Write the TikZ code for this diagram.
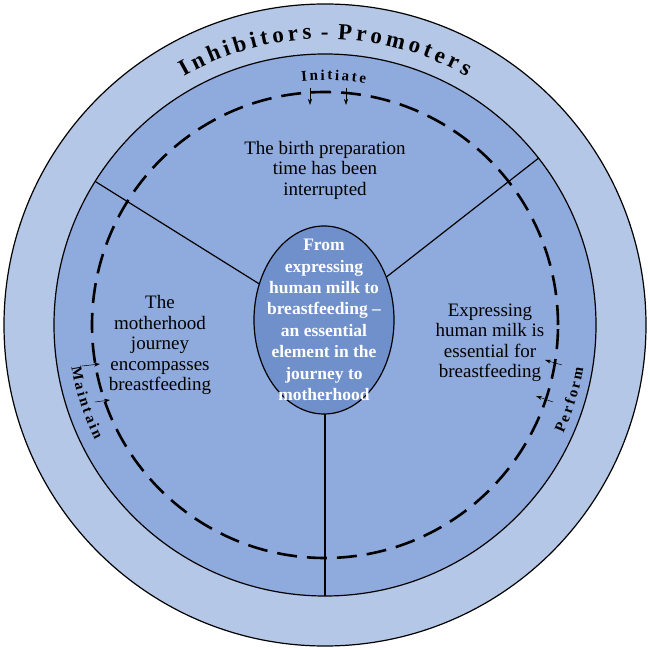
\documentclass[tikz,border=0pt]{standalone}
\usepackage{fontspec}
\setmainfont{Liberation Serif}
\usetikzlibrary{decorations.text,arrows.meta,shapes.geometric}
\definecolor{outerc}{HTML}{B4C7E7}
\definecolor{innerc}{HTML}{8FAADC}
\definecolor{corec}{HTML}{7090CC}
\begin{document}
\begin{tikzpicture}[x=1pt,y=1pt,
  body/.style={align=center,font=\fontsize{19}{20.5}\selectfont},
  arr/.style={-{Stealth[length=6pt,width=4pt]},line width=0.5pt},
  divider/.style={line width=1.2pt}]
\useasboundingbox (-325,-325) rectangle (325,325);
\fill[white] (-325,-325) rectangle (325,325);
\draw[fill=outerc,line width=1.2pt] (0,0) circle[radius=321];
\draw[fill=innerc,line width=1.2pt] (0,0) circle[radius=271];
\coordinate (c) at (0,0);
\coordinate (tl) at (148:271);
\coordinate (tr) at (38:271);
\coordinate (bt) at (270:271);
\draw[divider] (c) -- (tl);
\draw[divider] (c) -- (tr);
\draw[divider] (c) -- (bt);
\draw[line width=2.6pt,dash pattern=on 20pt off 10pt] (0,0) circle[radius=233];
\node[draw,line width=1.2pt,fill=corec,ellipse,minimum width=140pt,minimum height=188pt,inner sep=0pt] (core) at (-1,5) {};
\node[align=center,text=white,font=\bfseries\fontsize{17.5}{21.4}\selectfont] (coret) at (-1,5) {From\\expressing\\human milk to\\breastfeeding --\\an essential\\element in the\\journey to\\motherhood};
\node[body] (top) at (0,155) {The birth preparation\\time has been\\interrupted};
\node[body] (left) at (-165,-20) {The\\motherhood\\journey\\encompasses\\breastfeeding};
\node[body] (right) at (165,-18) {Expressing\\human milk is\\essential for\\breastfeeding};
% curved labels
\path[decorate,decoration={text along path,text align=center,
  text={|\bfseries\fontsize{23}{23}\selectfont|I{\kern4pt}n{\kern4pt}h{\kern4pt}i{\kern4pt}b{\kern4pt}i{\kern4pt}t{\kern4pt}o{\kern4pt}r{\kern4pt}s{\kern4pt}{\kern5pt}-{\kern5pt}{\kern4pt}P{\kern4pt}r{\kern4pt}o{\kern4pt}m{\kern4pt}o{\kern4pt}t{\kern4pt}e{\kern4pt}r{\kern4pt}s}}]
  (135:286) arc[start angle=135,end angle=45,radius=286];
\path[decorate,decoration={text along path,text align=center,
  text={|\bfseries\fontsize{15}{15}\selectfont|I{\kern2.5pt}n{\kern2.5pt}i{\kern2.5pt}t{\kern2.5pt}i{\kern2.5pt}a{\kern2.5pt}t{\kern2.5pt}e}}]
  (102:245) arc[start angle=102,end angle=74,radius=245];
\path[decorate,decoration={text along path,text align=center,
  text={|\bfseries\fontsize{15}{15}\selectfont|M{\kern2.5pt}a{\kern2.5pt}i{\kern2.5pt}n{\kern2.5pt}t{\kern2.5pt}a{\kern2.5pt}i{\kern2.5pt}n}}]
  (180:257) arc[start angle=180,end angle=216,radius=257];
\path[decorate,decoration={text along path,text align=center,
  text={|\bfseries\fontsize{15}{15}\selectfont|P{\kern2.5pt}e{\kern2.5pt}r{\kern2.5pt}f{\kern2.5pt}o{\kern2.5pt}r{\kern2.5pt}m}}]
  (-34:262) arc[start angle=-34,end angle=0,radius=262];
% arrows
\coordinate (i1a) at (-15,237); \coordinate (i1b) at (-15,220);
\coordinate (i2a) at (21,237);  \coordinate (i2b) at (21,220);
\draw[arr] (i1a) -- (i1b);
\draw[arr] (i2a) -- (i2b);
\coordinate (m1a) at (-243,-41); \coordinate (m1b) at (-225,-39);
\coordinate (m2a) at (-230,-77); \coordinate (m2b) at (-215,-75);
\draw[arr] (m1a) -- (m1b);
\draw[arr] (m2a) -- (m2b);
\coordinate (p1a) at (237,-40); \coordinate (p1b) at (220,-35);
\coordinate (p2a) at (228,-77); \coordinate (p2b) at (211,-71);
\draw[arr] (p1a) -- (p1b);
\draw[arr] (p2a) -- (p2b);
\end{tikzpicture}
\end{document}
